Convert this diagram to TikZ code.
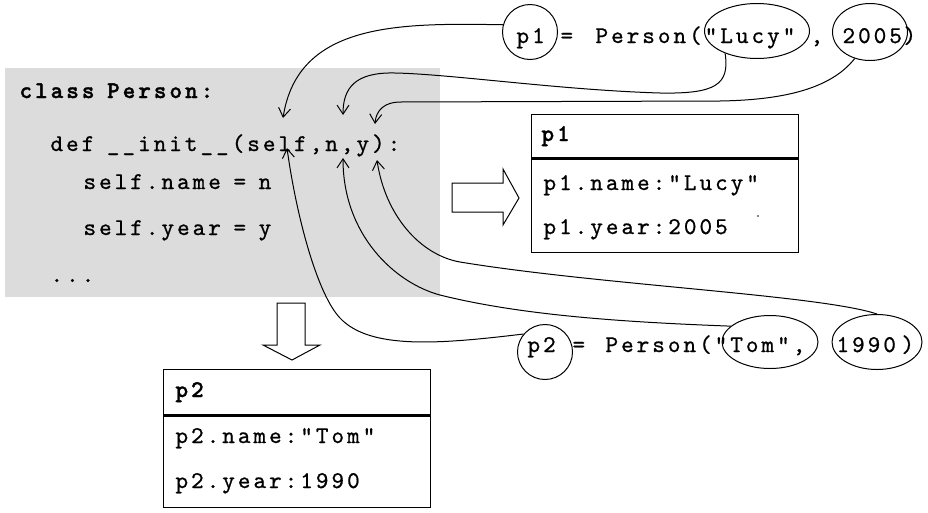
\documentclass[tikz,border=0pt]{standalone}
\usepackage{fontspec}
\setmonofont{lmmono10-regular.otf}[LetterSpace=12.5, UprightFeatures={FakeBold=0.8}, BoldFont=lmmonolt10-bold.otf, BoldFeatures={FakeBold=1.4}]
\usetikzlibrary{arrows.meta, shapes.geometric}
\definecolor{codebg}{RGB}{220,220,220}
\newcommand\sk{\hphantom{x}}
\begin{document}
\begin{tikzpicture}[x=1pt, y=-1pt, line width=1pt,
  code/.style={font=\ttfamily\fontsize{24pt}{28pt}\selectfont, inner sep=0pt, anchor=base west},
  oval/.style={draw, ellipse, inner sep=0pt, line width=1pt},
  ring/.style={draw, circle, inner sep=0pt, line width=1pt, minimum size=55pt},
  link/.style={-{Straight Barb[length=9pt,width=12pt]}, line width=1pt},
  blockarrow/.style={draw, fill=white, line width=1pt, line join=miter},
  objbox/.style={draw, line width=1pt, anchor=north west, minimum width=267pt, minimum height=138pt, inner sep=0pt}]
\useasboundingbox (0,0) rectangle (928,512);
\fill[codebg] (5,68) rectangle (440,297);

% class code
\node[code] (l1) at (19,98) {\bfseries class\sk Person:};
\node[code] (l2) at (50,151) {def\sk\_\_init\_\_(self,n,y):};
\node[code] (l3) at (83,189) {self.name\sk=\sk n};
\node[code] (l4) at (83,235) {self.year\sk=\sk y};
\node[code] (l5) at (50,282) {...};

% arrow targets
\coordinate (tSelfA) at (283,118);
\coordinate (tNA) at (343,115);
\coordinate (tYA) at (375,124);
\coordinate (tSelfB) at (287,148);
\coordinate (tNB) at (343,158);
\coordinate (tYB) at (377,160);

% top call
\node[ring] (p1c) at (530,32) {};
\node[code] (p1t) at (516,43) {p1};
\node[code] (eq1) at (560,43) {=};
\node[code] (per1) at (595,43) {Person("Lucy"};
\node[code] (cm1) at (810,43) {,};
\node[code] (n2005) at (842,43) {2005};
\node[code] (cl1) at (903,43) {)};
\node[oval, minimum width=105pt, minimum height=55pt] (lucyE) at (757,31) {};
\node[oval, minimum width=75pt, minimum height=57pt] (e2005) at (870,32) {};

% bottom call
\node[ring] (p2c) at (545,352) {};
\node[code] (p2t) at (527,352) {p2};
\node[code] (eq2) at (572,352) {=};
\node[code] (per2) at (605,352) {Person("Tom",};
\node[code] (n1990) at (836,352) {1990};
\node[code] (cl2) at (901,352) {)};
\node[oval, minimum width=96pt, minimum height=53pt] (tomE) at (770,342) {};
\node[oval, minimum width=90pt, minimum height=55pt] (e1990) at (877,342) {};

% object boxes
\node[objbox] (p1box) at (531,114) {};
\draw[line width=2.5pt] (531,158.5) -- (798,158.5);
\node[code] (p1h) at (541,141) {\bfseries p1};
\node[code] (p1n) at (543,190) {p1.name:"Lucy"};
\node[code] (p1y) at (543,234) {p1.year:2005};
\fill (758,216) circle (0.9pt);

\node[objbox] (p2box) at (163,369) {};
\draw[line width=2.5pt] (163,415.5) -- (430,415.5);
\node[code] (p2h) at (175,397) {\bfseries p2};
\node[code] (p2n) at (175,443) {p2.name:"Tom"};
\node[code] (p2y) at (175,488) {p2.year:1990};

% block arrows
\draw[blockarrow] (452,183) -- (503,183) -- (503,169) -- (519,198) -- (503,225) -- (503,212) -- (452,212) -- cycle;
\draw[blockarrow] (277,303) -- (305,303) -- (305,345) -- (320,345) -- (292,360) -- (263,345) -- (277,345) -- cycle;

% connectors
\draw[link] (p1c.165) .. controls (400,23) and (298,22) .. (tSelfA);
\draw[link] (lucyE.215) .. controls (730,85) and (715,94) .. (660,93)
  .. controls (560,90) and (450,74) .. (395,73)
  .. controls (355,72) and (343,88) .. (tNA);
\draw[link] (e2005.240) .. controls (830,90) and (780,100) .. (720,101)
  -- (400,102) .. controls (385,102) and (376,110) .. (tYA);
\draw[link] (p2c.140) .. controls (440,344) and (370,350) .. (340,318)
  .. controls (318,295) and (297,220) .. (tSelfB);
\draw[link] (tomE.158) .. controls (620,322) and (520,315) .. (440,295)
  .. controls (395,283) and (343,235) .. (tNB);
\draw[link] (e1990.north) .. controls (820,295) and (600,285) .. (460,262)
  .. controls (420,255) and (385,215) .. (tYB);
\end{tikzpicture}
\end{document}
